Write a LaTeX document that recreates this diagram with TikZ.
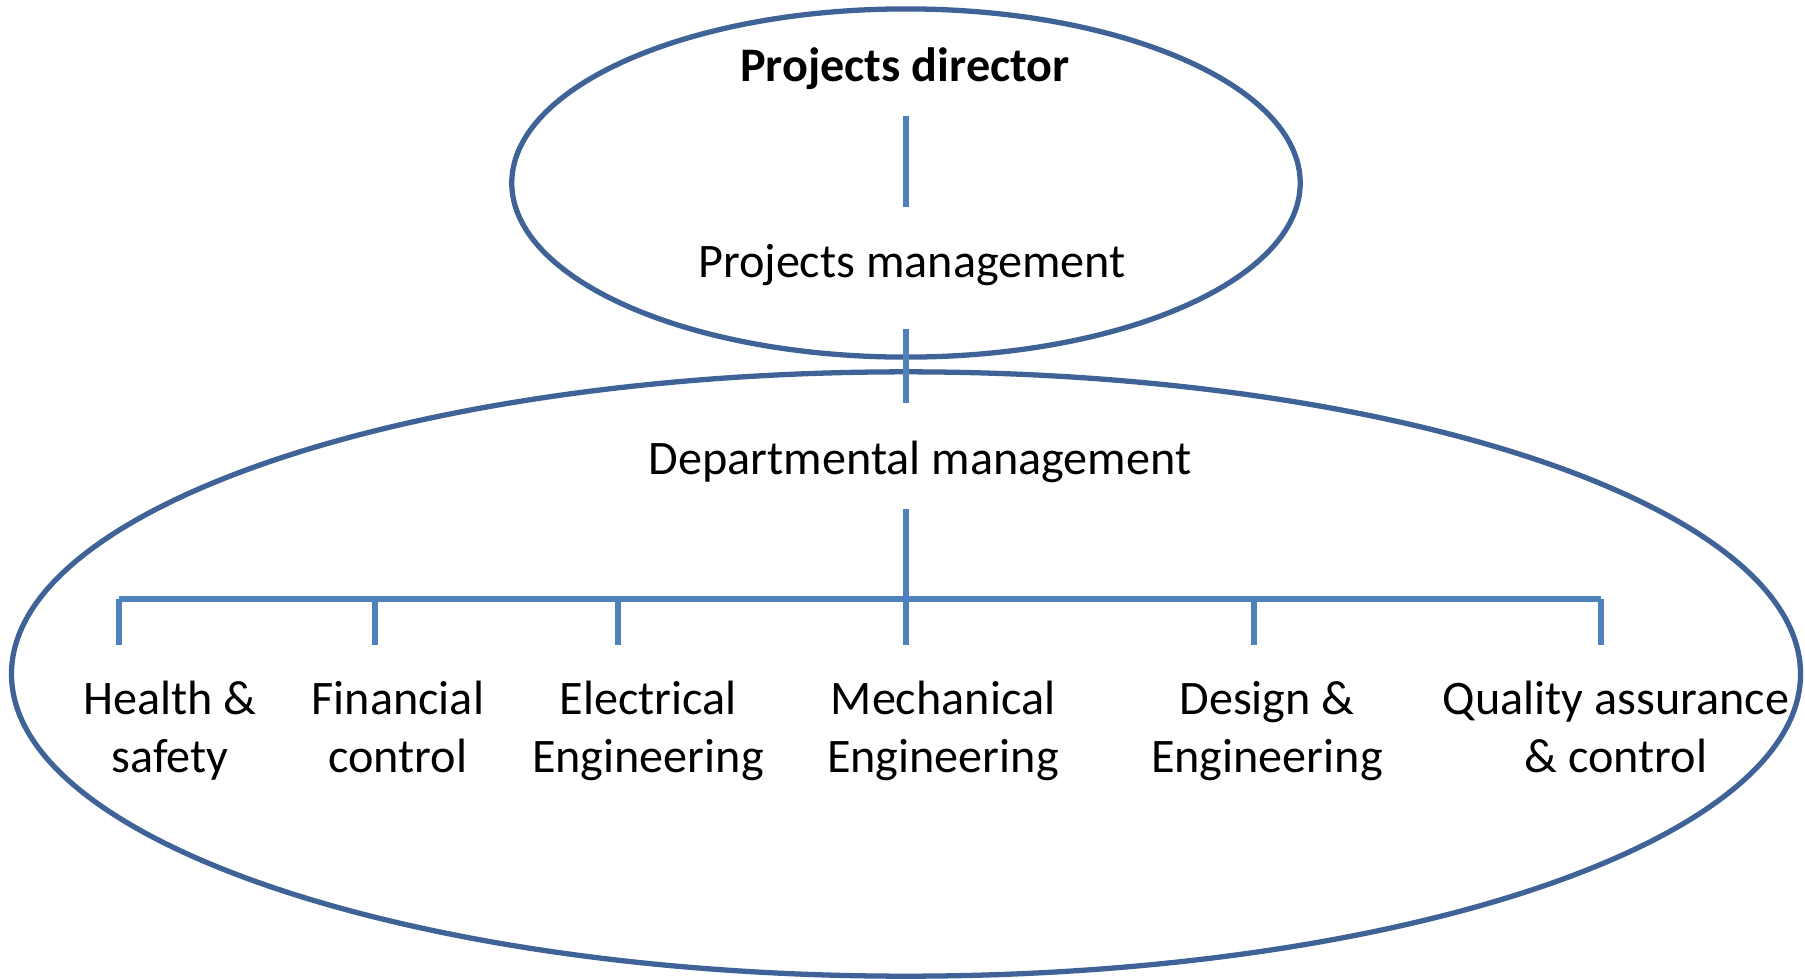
\documentclass[tikz,border=0pt]{standalone}
\usepackage{fontspec}
\setmainfont{Carlito}
\usetikzlibrary{shapes.geometric}
\definecolor{ringblue}{HTML}{3F6396}
\definecolor{lineblue}{HTML}{4F81BD}

\begin{document}
\begin{tikzpicture}[x=0.01cm, y=-0.01cm,
    ring/.style={draw=ringblue, line width=1.5pt, ellipse, inner sep=0pt},
    orgline/.style={draw=lineblue, line width=1.6pt},
    lbl/.style={align=center, inner sep=0pt, text height=0.72em, text depth=0.24em,
        font=\fontsize{13.7}{16.4}\selectfont}]
    \useasboundingbox (0,0) rectangle (1805,978);
    % Ellipses
    \node[ring, minimum width=7.88cm, minimum height=3.48cm] (toproom) at (906,183) {};
    \node[ring, minimum width=17.88cm, minimum height=6.04cm] (deptroom) at (906,674) {};
    % Upper levels
    \node[lbl, font=\fontsize{13.7}{16.4}\selectfont\bfseries] (director) at (905,73) {Projects director};
    \node[lbl] (projmgmt) at (912,269) {Projects management};
    \node[lbl] (deptmgmt) at (920,466) {Departmental management};
    % Departments
    \node[lbl] (health) at (170,764) {Health \&\\safety};
    \node[lbl] (finance) at (398,764) {Financial\\control};
    \node[lbl] (electric) at (648,764) {Electrical\\Engineering};
    \node[lbl] (mechanic) at (943,764) {Mechanical\\Engineering};
    \node[lbl] (design) at (1267,764) {Design \&\\Engineering};
    \node[lbl] (quality) at (1616,764) {Quality assurance\\\& control};
    % Connectors
    \coordinate (dirfoot) at (906,116);
    \coordinate (pmhead) at (906,207);
    \coordinate (pmfoot) at (906,329);
    \coordinate (dmhead) at (906,403);
    \coordinate (dmfoot) at (906,509);
    \coordinate (barmid) at (906,599);
    \coordinate (barleft) at (119,599);
    \coordinate (barright) at (1601,599);
    \draw[orgline] (dirfoot) -- (pmhead);
    \draw[orgline] (pmfoot) -- (dmhead);
    \draw[orgline] (dmfoot) -- (barmid);
    \draw[orgline] (barleft) -- (barright);
    \foreach \x in {119,375,618,906,1254,1601}
        \draw[orgline] (\x,599) -- (\x,645);
\end{tikzpicture}
\end{document}
